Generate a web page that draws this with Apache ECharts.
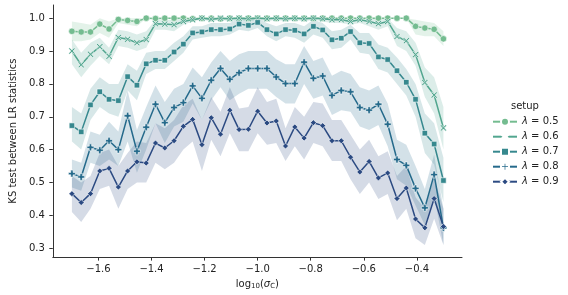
<!DOCTYPE html>
<html>
<head>
<meta charset="utf-8">
<script src="https://cdn.jsdelivr.net/npm/echarts@6/dist/echarts.min.js"></script>
<style>html,body{margin:0;padding:0;background:#fff}#c{width:568px;height:295px}</style>
</head>
<body>
<div id="c"></div>
<script>
// x positions: log10(sigma_C)
const xs = [-1.700,-1.665,-1.630,-1.595,-1.560,-1.525,-1.490,-1.455,-1.420,-1.385,-1.350,-1.315,-1.280,-1.245,-1.210,-1.175,-1.140,-1.105,-1.070,-1.035,-1.000,-0.965,-0.930,-0.895,-0.860,-0.825,-0.790,-0.755,-0.720,-0.685,-0.650,-0.615,-0.580,-0.545,-0.510,-0.475,-0.440,-0.405,-0.370,-0.335,-0.300];

const seriesNames = ['λ = 0.5','λ = 0.6','λ = 0.7','λ = 0.8','λ = 0.9'];

// lambda = 0.5
const v05 = [0.960,0.958,0.958,0.982,0.967,0.996,0.993,0.990,1.0,0.999,1.0,1.0,1.0,0.998,1.0,1.0,0.998,1.0,1.0,1.0,1.0,1.0,1.0,1.0,1.0,1.0,1.0,1.0,1.0,1.0,1.0,1.0,1.0,1.0,1.0,1.0,1.0,0.975,0.970,0.966,0.937];
const lo05 = [0.93,0.93,0.935,0.955,0.94,0.985,0.98,0.975,1.0,0.995,1.0,1.0,1.0,0.995,1.0,1.0,0.995,1.0,1.0,1.0,1.0,1.0,1.0,1.0,1.0,1.0,1.0,1.0,1.0,1.0,1.0,1.0,1.0,1.0,1.0,1.0,1.0,0.95,0.945,0.945,0.915];
const hi05 = [0.99,0.985,0.98,1.0,0.99,1.0,1.0,1.0,1.0,1.0,1.0,1.0,1.0,1.0,1.0,1.0,1.0,1.0,1.0,1.0,1.0,1.0,1.0,1.0,1.0,1.0,1.0,1.0,1.0,1.0,1.0,1.0,1.0,1.0,1.0,1.0,1.0,0.995,0.99,0.985,0.96];

// lambda = 0.6
const v06 = [0.900,0.858,0.890,0.913,0.884,0.941,0.936,0.925,0.935,0.983,0.982,0.980,0.990,0.995,1.0,0.997,1.0,0.998,1.0,0.998,1.0,0.998,1.0,0.998,1.0,0.998,1.0,0.998,0.995,0.995,0.990,0.995,0.990,0.983,0.990,0.944,0.931,0.889,0.804,0.766,0.666];
const lo06 = [0.86,0.82,0.855,0.885,0.86,0.915,0.91,0.90,0.91,0.965,0.965,0.96,0.98,0.99,0.995,0.99,0.995,0.99,0.995,0.99,0.995,0.99,0.995,0.99,0.995,0.99,0.995,0.99,0.985,0.985,0.98,0.985,0.975,0.965,0.975,0.915,0.90,0.855,0.76,0.71,0.60];
const hi06 = [0.935,0.895,0.925,0.94,0.91,0.965,0.96,0.95,0.96,0.995,0.995,0.995,1.0,1.0,1.0,1.0,1.0,1.0,1.0,1.0,1.0,1.0,1.0,1.0,1.0,1.0,1.0,1.0,1.0,1.0,1.0,1.0,1.0,0.995,1.0,0.97,0.96,0.925,0.85,0.82,0.73];

// lambda = 0.7
const v07 = [0.673,0.654,0.736,0.776,0.753,0.749,0.822,0.796,0.861,0.872,0.872,0.897,0.921,0.955,0.958,0.965,0.965,0.967,0.982,0.978,0.987,0.965,0.952,0.965,0.963,0.952,0.975,0.964,0.934,0.939,0.959,0.925,0.923,0.882,0.874,0.840,0.805,0.753,0.650,0.617,0.506];
const lo07 = [0.625,0.60,0.69,0.73,0.71,0.70,0.78,0.75,0.83,0.845,0.845,0.87,0.895,0.935,0.94,0.945,0.945,0.95,0.965,0.96,0.97,0.945,0.93,0.945,0.94,0.925,0.95,0.94,0.905,0.91,0.935,0.895,0.89,0.845,0.835,0.80,0.765,0.70,0.59,0.555,0.44];
const hi07 = [0.73,0.71,0.785,0.82,0.80,0.80,0.86,0.84,0.895,0.90,0.90,0.925,0.945,0.975,0.975,0.985,0.985,0.985,1.0,0.995,1.0,0.985,0.975,0.985,0.985,0.975,0.995,0.985,0.96,0.965,0.98,0.955,0.955,0.92,0.91,0.88,0.845,0.80,0.71,0.68,0.575];

// lambda = 0.8
const v08 = [0.527,0.517,0.607,0.598,0.627,0.600,0.703,0.595,0.668,0.738,0.682,0.728,0.743,0.794,0.756,0.811,0.847,0.814,0.834,0.847,0.847,0.847,0.821,0.801,0.801,0.866,0.817,0.824,0.765,0.780,0.776,0.728,0.720,0.738,0.677,0.570,0.552,0.482,0.423,0.524,0.362];
const lo08 = [0.485,0.475,0.56,0.55,0.57,0.55,0.625,0.53,0.60,0.68,0.62,0.67,0.685,0.74,0.69,0.75,0.79,0.75,0.77,0.785,0.785,0.785,0.76,0.74,0.74,0.80,0.755,0.765,0.705,0.72,0.715,0.67,0.66,0.675,0.61,0.51,0.49,0.43,0.37,0.46,0.31];
const hi08 = [0.57,0.56,0.655,0.645,0.685,0.655,0.78,0.66,0.73,0.795,0.745,0.785,0.80,0.85,0.82,0.865,0.90,0.87,0.89,0.90,0.90,0.90,0.875,0.86,0.86,0.915,0.87,0.88,0.825,0.84,0.83,0.79,0.78,0.795,0.74,0.63,0.615,0.55,0.48,0.585,0.42];

// lambda = 0.9
const v09 = [0.466,0.439,0.466,0.535,0.543,0.486,0.535,0.563,0.559,0.620,0.605,0.627,0.671,0.692,0.615,0.697,0.647,0.720,0.661,0.662,0.717,0.681,0.687,0.611,0.669,0.635,0.682,0.673,0.627,0.627,0.577,0.532,0.564,0.514,0.529,0.451,0.483,0.389,0.362,0.451,0.366];
const lo09 = [0.41,0.38,0.42,0.48,0.49,0.42,0.48,0.50,0.50,0.56,0.54,0.56,0.60,0.625,0.535,0.63,0.58,0.65,0.595,0.595,0.65,0.615,0.62,0.565,0.61,0.57,0.62,0.61,0.565,0.565,0.51,0.465,0.50,0.45,0.465,0.385,0.42,0.33,0.31,0.39,0.31];
const hi09 = [0.52,0.50,0.52,0.59,0.60,0.55,0.59,0.625,0.62,0.68,0.665,0.69,0.735,0.755,0.69,0.76,0.715,0.79,0.725,0.73,0.79,0.745,0.755,0.665,0.73,0.70,0.745,0.74,0.69,0.69,0.645,0.60,0.63,0.58,0.595,0.52,0.55,0.455,0.42,0.515,0.42];

const xTicks = [-1.6,-1.4,-1.2,-1.0,-0.8,-0.6,-0.4];
const yTicks = [0.3,0.4,0.5,0.6,0.7,0.8,0.9,1.0];

const values = [v05,v06,v07,v08,v09];
const lows = [lo05,lo06,lo07,lo08,lo09];
const highs = [hi05,hi06,hi07,hi08,hi09];
const colors = ['#74bc90','#52a68f','#36888e','#256a8b','#2b4a82'];
const plusPath = 'path://M3.3,0 H6.7 V3.3 H10 V6.7 H6.7 V10 H3.3 V6.7 H0 V3.3 H3.3 Z';
const xPath = 'path://M1.6,0 L5,3.4 L8.4,0 L10,1.6 L6.6,5 L10,8.4 L8.4,10 L5,6.6 L1.6,10 L0,8.4 L3.4,5 L0,1.6 Z';
const symbols = ['circle', xPath, 'rect', plusPath, 'diamond'];
const symSizes = [6.5, 6.5, 5.5, 7, 6];

const font = 'DejaVu Sans';
const fmt = v => v.toFixed(1).replace('-', '\u2212');

const series = [];
values.forEach((vals, k) => {
  const lo = lows[k], hi = highs[k], col = colors[k];
  series.push({
    type: 'custom', name: 'band' + k, silent: true, z: 1,
    data: xs.map((x, i) => [x, lo[i], hi[i]]),
    encode: { x: 0, y: [1, 2] },
    renderItem: (params, api) => {
      if (params.dataIndex !== 0) return null;
      const pts = [];
      for (let i = 0; i < xs.length; i++) pts.push(api.coord([xs[i], hi[i]]));
      for (let i = xs.length - 1; i >= 0; i--) pts.push(api.coord([xs[i], lo[i]]));
      return { type: 'polygon', shape: { points: pts }, style: { fill: col, opacity: 0.2 } };
    }
  });
});
values.forEach((vals, k) => {
  series.push({
    type: 'line', name: seriesNames[k], z: 3 + k,
    data: xs.map((x, i) => [x, vals[i]]),
    symbol: symbols[k], symbolSize: symSizes[k], showSymbol: true,
    lineStyle: { width: 1.5, color: colors[k] },
    itemStyle: { color: colors[k], borderColor: '#ffffff', borderWidth: 0.6 }
  });
});

const chart = echarts.init(document.getElementById('c'), null, { renderer: 'canvas' });
chart.setOption({
  animation: false,
  backgroundColor: '#ffffff',
  textStyle: { fontFamily: font },
  grid: { left: 49, right: 106, top: 5, bottom: 36, containLabel: false },
  xAxis: {
    type: 'value', min: -1.772, max: -0.23,
    name: '{n|log}{s|10}{n|(}{i|σ}{s|C}{n|)}',
    nameLocation: 'middle', nameGap: 19,
    nameTextStyle: {
      fontFamily: font, fontSize: 10, color: '#222',
      rich: {
        n: { fontFamily: font, fontSize: 10, color: '#222' },
        i: { fontFamily: font, fontSize: 10, fontStyle: 'italic', color: '#222' },
        s: { fontFamily: font, fontSize: 7, color: '#222', padding: [5, 0, 0, 0] }
      }
    },
    axisLine: { onZero: false, lineStyle: { color: '#333', width: 1 } },
    axisTick: { show: true, length: 3.5, lineStyle: { color: '#333' }, customValues: xTicks },
    axisLabel: { fontFamily: font, fontSize: 10, color: '#222', margin: 7, customValues: xTicks, formatter: fmt },
    splitLine: { show: false }
  },
  yAxis: {
    type: 'value', min: 0.273, max: 1.04,
    name: 'KS test between LR statistics',
    nameLocation: 'middle', nameGap: 31, nameRotate: 90,
    nameTextStyle: { fontFamily: font, fontSize: 10, color: '#222' },
    axisLine: { show: true, onZero: false, lineStyle: { color: '#333', width: 1 } },
    axisTick: { show: true, length: 3.5, lineStyle: { color: '#333' }, customValues: yTicks },
    axisLabel: { fontFamily: font, fontSize: 10, color: '#222', margin: 8, customValues: yTicks, formatter: fmt },
    splitLine: { show: false }
  },
  legend: {
    data: seriesNames,
    orient: 'vertical', left: 492, top: 116.7, padding: 0,
    itemWidth: 24, itemHeight: 10, itemGap: 5,
    formatter: name => name.replace('λ', '{i|λ}'),
    textStyle: {
      fontFamily: font, fontSize: 10, color: '#222', lineHeight: 10,
      rich: {
        i: { fontFamily: font, fontSize: 10, fontStyle: 'italic', color: '#222' }
      }
    }
  },
  graphic: [{
    type: 'text', left: 511, top: 101,
    style: { text: 'setup', font: '10px "DejaVu Sans"', fill: '#222' }
  }],
  series: series
});
</script>
</body>
</html>
